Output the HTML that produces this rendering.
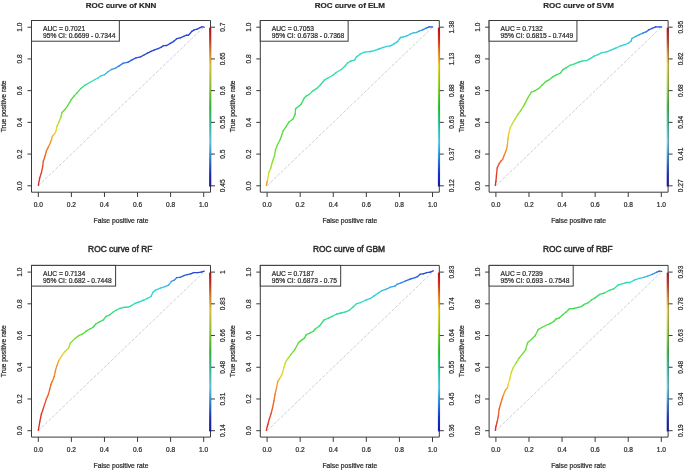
<!DOCTYPE html><html><head><meta charset="utf-8"><style>html,body{margin:0;padding:0;background:#fff;overflow:hidden;width:685px;height:470px;}svg{display:block;filter:blur(0.3px);}text{font-family:"Liberation Sans",sans-serif;stroke:#2a2a2a;stroke-width:0.22px;}</style></head><body>
<svg width="685" height="470" viewBox="0 0 685 470">
<rect width="685" height="470" fill="#fff"/>
<defs><linearGradient id="cbg" x1="0" y1="0" x2="0" y2="1"><stop offset="0" stop-color="rgb(175,20,20)"/><stop offset="0.03" stop-color="rgb(200,28,28)"/><stop offset="0.08" stop-color="rgb(220,55,30)"/><stop offset="0.15" stop-color="rgb(235,140,40)"/><stop offset="0.24" stop-color="rgb(240,220,50)"/><stop offset="0.38" stop-color="rgb(150,215,50)"/><stop offset="0.5" stop-color="rgb(50,200,60)"/><stop offset="0.6" stop-color="rgb(50,205,170)"/><stop offset="0.72" stop-color="rgb(110,215,240)"/><stop offset="0.8" stop-color="rgb(50,160,235)"/><stop offset="0.92" stop-color="rgb(25,45,205)"/><stop offset="1" stop-color="rgb(20,22,165)"/></linearGradient></defs>
<g transform="translate(0,0)">
<text x="121" y="7.6" font-size="8.0" font-weight="bold" stroke-width="0" text-anchor="middle" fill="#2a2a2a">ROC curve of KNN</text>
<line x1="38.3" y1="185.8" x2="203.7" y2="27.2" stroke="#c8d3d7" stroke-width="1" stroke-dasharray="3.2 1.6"/>
<g stroke-width="1.35" stroke-linecap="round"><line x1="38.3" y1="185.3" x2="39.8" y2="177.6" stroke="#de2e28"/><line x1="39.8" y1="177.6" x2="41.4" y2="172.8" stroke="#e03a28"/><line x1="41.4" y1="172.8" x2="42.7" y2="166.1" stroke="#e44628"/><line x1="42.7" y1="166.1" x2="43.3" y2="161.3" stroke="#e64f28"/><line x1="43.3" y1="161.3" x2="44.6" y2="157.5" stroke="#e85828"/><line x1="44.6" y1="157.5" x2="46.5" y2="150.8" stroke="#eb6728"/><line x1="46.5" y1="150.8" x2="47.9" y2="147.9" stroke="#ed7728"/><line x1="47.9" y1="147.9" x2="49.4" y2="145" stroke="#ee8328"/><line x1="49.4" y1="145" x2="51.3" y2="140.3" stroke="#f09328"/><line x1="51.3" y1="140.3" x2="52.3" y2="136.4" stroke="#efa92b"/><line x1="52.3" y1="136.4" x2="54.8" y2="133.5" stroke="#edc02e"/><line x1="54.8" y1="133.5" x2="56.1" y2="130.7" stroke="#ebd732"/><line x1="56.1" y1="130.7" x2="57.1" y2="125.9" stroke="#dcd931"/><line x1="57.1" y1="125.9" x2="59" y2="122" stroke="#c7db2f"/><line x1="59" y1="122" x2="60.9" y2="117.3" stroke="#abde2d"/><line x1="60.9" y1="117.3" x2="61.9" y2="112.5" stroke="#8ade30"/><line x1="61.9" y1="112.5" x2="64.8" y2="109.6" stroke="#70de33"/><line x1="64.8" y1="109.6" x2="67.6" y2="105.8" stroke="#60dd3b"/><line x1="67.6" y1="105.8" x2="71.2" y2="99.6" stroke="#53dd40"/><line x1="71.2" y1="99.6" x2="74.2" y2="95.9" stroke="#49dc45"/><line x1="74.2" y1="95.9" x2="77.1" y2="92.9" stroke="#44dc50"/><line x1="77.1" y1="92.9" x2="80.9" y2="88.4" stroke="#3edd64"/><line x1="80.9" y1="88.4" x2="84.6" y2="85.4" stroke="#38dd7d"/><line x1="84.6" y1="85.4" x2="89.8" y2="82.5" stroke="#32de9a"/><line x1="89.8" y1="82.5" x2="95" y2="79.5" stroke="#32dbb3"/><line x1="95" y1="79.5" x2="98" y2="78" stroke="#32d8cc"/><line x1="98" y1="78" x2="101" y2="75.8" stroke="#33d3d9"/><line x1="101" y1="75.8" x2="104.7" y2="74.6" stroke="#35c9dd"/><line x1="104.7" y1="74.6" x2="107.7" y2="72" stroke="#38bce3"/><line x1="107.7" y1="72" x2="111.4" y2="69.5" stroke="#3bb0e8"/><line x1="111.4" y1="69.5" x2="115.1" y2="68.3" stroke="#3ba2ea"/><line x1="115.1" y1="68.3" x2="118.8" y2="66.1" stroke="#3891e9"/><line x1="118.8" y1="66.1" x2="123.3" y2="63.1" stroke="#347ee7"/><line x1="123.3" y1="63.1" x2="127.8" y2="62.3" stroke="#316de4"/><line x1="127.8" y1="62.3" x2="131.5" y2="60.1" stroke="#2e62e0"/><line x1="131.5" y1="60.1" x2="136" y2="57.9" stroke="#2c57dd"/><line x1="136" y1="57.9" x2="140.5" y2="56.8" stroke="#2a4eda"/><line x1="140.5" y1="56.8" x2="144" y2="55" stroke="#2848d8"/><line x1="144" y1="55" x2="147.5" y2="53.1" stroke="#2846d7"/><line x1="147.5" y1="53.1" x2="151" y2="51.3" stroke="#2846d7"/><line x1="151" y1="51.3" x2="154.5" y2="49.8" stroke="#2846d7"/><line x1="154.5" y1="49.8" x2="158" y2="48.6" stroke="#2846d7"/><line x1="158" y1="48.6" x2="161" y2="47.4" stroke="#2846d7"/><line x1="161" y1="47.4" x2="163.3" y2="45.7" stroke="#2846d7"/><line x1="163.3" y1="45.7" x2="166.8" y2="45.5" stroke="#2846d7"/><line x1="166.8" y1="45.5" x2="170.3" y2="43.4" stroke="#2846d7"/><line x1="170.3" y1="43.4" x2="173.8" y2="41.3" stroke="#2846d7"/><line x1="173.8" y1="41.3" x2="176.7" y2="38.7" stroke="#2846d7"/><line x1="176.7" y1="38.7" x2="180.2" y2="37.8" stroke="#2846d7"/><line x1="180.2" y1="37.8" x2="183.7" y2="36.4" stroke="#2846d7"/><line x1="183.7" y1="36.4" x2="186.6" y2="35.2" stroke="#2846d7"/><line x1="186.6" y1="35.2" x2="188.4" y2="35.2" stroke="#2846d7"/><line x1="188.4" y1="35.2" x2="190.1" y2="33.4" stroke="#2846d7"/><line x1="190.1" y1="33.4" x2="191.9" y2="31.3" stroke="#2846d7"/><line x1="191.9" y1="31.3" x2="194.2" y2="29.9" stroke="#2846d7"/><line x1="194.2" y1="29.9" x2="197.2" y2="29.1" stroke="#2846d7"/><line x1="197.2" y1="29.1" x2="200.1" y2="27.6" stroke="#2846d7"/><line x1="200.1" y1="27.6" x2="201.8" y2="26.8" stroke="#2846d7"/><line x1="201.8" y1="26.8" x2="204.2" y2="27.2" stroke="#2846d7"/></g>
<path d="M31.5 20.5H210.5V192.2H31.5Z" fill="none" stroke="#3a3a3a" stroke-width="1"/>
<rect x="209.1" y="27.7" width="2.1" height="158.8" fill="url(#cbg)"/><line x1="210.9" y1="27.7" x2="210.9" y2="186.5" stroke="#3a3a3a" stroke-opacity="0.4" stroke-width="0.7"/>
<rect x="31.5" y="20.5" width="87.83" height="20.7" fill="#fff" stroke="#3a3a3a" stroke-width="1"/>
<text x="43" y="31.1" font-size="6.7" fill="#2a2a2a">AUC = 0.7021</text>
<text x="43" y="37.7" font-size="6.7" fill="#2a2a2a">95% CI: 0.6699 - 0.7344</text>
<line x1="27.5" y1="185.8" x2="31.5" y2="185.8" stroke="#3a3a3a" stroke-width="1"/>
<text transform="translate(22.4,185.8) rotate(-90)" font-size="6.6" text-anchor="middle" fill="#2a2a2a">0.0</text>
<line x1="27.5" y1="154.08" x2="31.5" y2="154.08" stroke="#3a3a3a" stroke-width="1"/>
<text transform="translate(22.4,154.08) rotate(-90)" font-size="6.6" text-anchor="middle" fill="#2a2a2a">0.2</text>
<line x1="27.5" y1="122.36" x2="31.5" y2="122.36" stroke="#3a3a3a" stroke-width="1"/>
<text transform="translate(22.4,122.36) rotate(-90)" font-size="6.6" text-anchor="middle" fill="#2a2a2a">0.4</text>
<line x1="27.5" y1="90.64" x2="31.5" y2="90.64" stroke="#3a3a3a" stroke-width="1"/>
<text transform="translate(22.4,90.64) rotate(-90)" font-size="6.6" text-anchor="middle" fill="#2a2a2a">0.6</text>
<line x1="27.5" y1="58.92" x2="31.5" y2="58.92" stroke="#3a3a3a" stroke-width="1"/>
<text transform="translate(22.4,58.92) rotate(-90)" font-size="6.6" text-anchor="middle" fill="#2a2a2a">0.8</text>
<line x1="27.5" y1="27.2" x2="31.5" y2="27.2" stroke="#3a3a3a" stroke-width="1"/>
<text transform="translate(22.4,27.2) rotate(-90)" font-size="6.6" text-anchor="middle" fill="#2a2a2a">1.0</text>
<line x1="38.3" y1="192.2" x2="38.3" y2="197" stroke="#3a3a3a" stroke-width="1"/>
<text x="38.3" y="206.8" font-size="6.6" text-anchor="middle" fill="#2a2a2a">0.0</text>
<line x1="71.38" y1="192.2" x2="71.38" y2="197" stroke="#3a3a3a" stroke-width="1"/>
<text x="71.38" y="206.8" font-size="6.6" text-anchor="middle" fill="#2a2a2a">0.2</text>
<line x1="104.46" y1="192.2" x2="104.46" y2="197" stroke="#3a3a3a" stroke-width="1"/>
<text x="104.46" y="206.8" font-size="6.6" text-anchor="middle" fill="#2a2a2a">0.4</text>
<line x1="137.54" y1="192.2" x2="137.54" y2="197" stroke="#3a3a3a" stroke-width="1"/>
<text x="137.54" y="206.8" font-size="6.6" text-anchor="middle" fill="#2a2a2a">0.6</text>
<line x1="170.62" y1="192.2" x2="170.62" y2="197" stroke="#3a3a3a" stroke-width="1"/>
<text x="170.62" y="206.8" font-size="6.6" text-anchor="middle" fill="#2a2a2a">0.8</text>
<line x1="203.7" y1="192.2" x2="203.7" y2="197" stroke="#3a3a3a" stroke-width="1"/>
<text x="203.7" y="206.8" font-size="6.6" text-anchor="middle" fill="#2a2a2a">1.0</text>
<text x="121" y="222.9" font-size="6.75" text-anchor="middle" fill="#2a2a2a">False positive rate</text>
<text transform="translate(6.4,106.35) rotate(-90)" font-size="6.75" text-anchor="middle" fill="#2a2a2a">True positive rate</text>
<line x1="211" y1="27.2" x2="215" y2="27.2" stroke="#3a3a3a" stroke-width="1"/>
<text transform="translate(225.4,27.2) rotate(-90)" font-size="6.6" text-anchor="middle" fill="#2a2a2a">0.7</text>
<line x1="211" y1="58.92" x2="215" y2="58.92" stroke="#3a3a3a" stroke-width="1"/>
<text transform="translate(225.4,58.92) rotate(-90)" font-size="6.6" text-anchor="middle" fill="#2a2a2a">0.65</text>
<line x1="211" y1="90.64" x2="215" y2="90.64" stroke="#3a3a3a" stroke-width="1"/>
<text transform="translate(225.4,90.64) rotate(-90)" font-size="6.6" text-anchor="middle" fill="#2a2a2a">0.6</text>
<line x1="211" y1="122.36" x2="215" y2="122.36" stroke="#3a3a3a" stroke-width="1"/>
<text transform="translate(225.4,122.36) rotate(-90)" font-size="6.6" text-anchor="middle" fill="#2a2a2a">0.55</text>
<line x1="211" y1="154.08" x2="215" y2="154.08" stroke="#3a3a3a" stroke-width="1"/>
<text transform="translate(225.4,154.08) rotate(-90)" font-size="6.6" text-anchor="middle" fill="#2a2a2a">0.5</text>
<line x1="211" y1="185.8" x2="215" y2="185.8" stroke="#3a3a3a" stroke-width="1"/>
<text transform="translate(225.4,185.8) rotate(-90)" font-size="6.6" text-anchor="middle" fill="#2a2a2a">0.45</text>
</g>
<g transform="translate(228.8,0)">
<text x="121" y="7.6" font-size="8.0" font-weight="bold" stroke-width="0" text-anchor="middle" fill="#2a2a2a">ROC curve of ELM</text>
<line x1="38.3" y1="185.8" x2="203.7" y2="27.2" stroke="#c8d3d7" stroke-width="1" stroke-dasharray="3.2 1.6"/>
<g stroke-width="1.35" stroke-linecap="round"><line x1="37.5" y1="185.3" x2="38.7" y2="180.5" stroke="#f09628"/><line x1="38.7" y1="180.5" x2="40" y2="172.8" stroke="#d9d930"/><line x1="40" y1="172.8" x2="41.9" y2="168" stroke="#b2de2d"/><line x1="41.9" y1="168" x2="43.8" y2="161.3" stroke="#95de2f"/><line x1="43.8" y1="161.3" x2="45.7" y2="155.6" stroke="#7ede31"/><line x1="45.7" y1="155.6" x2="46.7" y2="149.8" stroke="#70de33"/><line x1="46.7" y1="149.8" x2="48.6" y2="145" stroke="#69de36"/><line x1="48.6" y1="145" x2="51.5" y2="139.3" stroke="#63dd39"/><line x1="51.5" y1="139.3" x2="54.4" y2="130.7" stroke="#5ddd3c"/><line x1="54.4" y1="130.7" x2="57.2" y2="126.8" stroke="#56dd3f"/><line x1="57.2" y1="126.8" x2="60.1" y2="122" stroke="#50dc42"/><line x1="60.1" y1="122" x2="64" y2="119.2" stroke="#49dc45"/><line x1="64" y1="119.2" x2="66.3" y2="114.4" stroke="#45dc4b"/><line x1="66.3" y1="114.4" x2="66.8" y2="108.6" stroke="#42dc55"/><line x1="66.8" y1="108.6" x2="70.7" y2="105.8" stroke="#40dd5f"/><line x1="70.7" y1="105.8" x2="72.4" y2="104.1" stroke="#3ddd69"/><line x1="72.4" y1="104.1" x2="75.4" y2="98.1" stroke="#3bdd73"/><line x1="75.4" y1="98.1" x2="77.6" y2="95.9" stroke="#38dd7d"/><line x1="77.6" y1="95.9" x2="80.6" y2="94.4" stroke="#37dd82"/><line x1="80.6" y1="94.4" x2="83.5" y2="91.4" stroke="#36de87"/><line x1="83.5" y1="91.4" x2="88" y2="88.4" stroke="#34de8c"/><line x1="88" y1="88.4" x2="91.7" y2="84.7" stroke="#33de91"/><line x1="91.7" y1="84.7" x2="95.5" y2="80.2" stroke="#32de96"/><line x1="95.5" y1="80.2" x2="99.2" y2="78" stroke="#32de9a"/><line x1="99.2" y1="78" x2="104.4" y2="75" stroke="#32dda1"/><line x1="104.4" y1="75" x2="107.4" y2="72.5" stroke="#32dca4"/><line x1="107.4" y1="72.5" x2="112.6" y2="69.5" stroke="#32dca8"/><line x1="112.6" y1="69.5" x2="116.3" y2="66.1" stroke="#32dbaf"/><line x1="116.3" y1="66.1" x2="118.6" y2="63.1" stroke="#32dbb3"/><line x1="118.6" y1="63.1" x2="122.3" y2="60.9" stroke="#32dab6"/><line x1="122.3" y1="60.9" x2="126" y2="59.8" stroke="#32dabe"/><line x1="126" y1="59.8" x2="127.5" y2="57.1" stroke="#32d9c1"/><line x1="127.5" y1="57.1" x2="131.2" y2="54.2" stroke="#32d9c5"/><line x1="131.2" y1="54.2" x2="135.7" y2="52.2" stroke="#32d8cc"/><line x1="135.7" y1="52.2" x2="141.9" y2="51.5" stroke="#32d8d0"/><line x1="141.9" y1="51.5" x2="145.4" y2="50.6" stroke="#32d7d3"/><line x1="145.4" y1="50.6" x2="150.1" y2="49" stroke="#32d7d7"/><line x1="150.1" y1="49" x2="154.7" y2="47.4" stroke="#32d5d8"/><line x1="154.7" y1="47.4" x2="158.2" y2="46.3" stroke="#33d3d9"/><line x1="158.2" y1="46.3" x2="161.7" y2="45.9" stroke="#33d1da"/><line x1="161.7" y1="45.9" x2="165.2" y2="43.9" stroke="#34cfdb"/><line x1="165.2" y1="43.9" x2="168.7" y2="41.6" stroke="#34cddc"/><line x1="168.7" y1="41.6" x2="171.7" y2="37.5" stroke="#35cbdc"/><line x1="171.7" y1="37.5" x2="174.6" y2="36.9" stroke="#35c9dd"/><line x1="174.6" y1="36.9" x2="178.1" y2="35.8" stroke="#36c7de"/><line x1="178.1" y1="35.8" x2="181.6" y2="34" stroke="#36c5df"/><line x1="181.6" y1="34" x2="184.5" y2="32.8" stroke="#37c0e1"/><line x1="184.5" y1="32.8" x2="187.4" y2="32.6" stroke="#38bae4"/><line x1="187.4" y1="32.6" x2="190.3" y2="31.1" stroke="#3bb0e8"/><line x1="190.3" y1="31.1" x2="193.8" y2="29.9" stroke="#3a9fea"/><line x1="193.8" y1="29.9" x2="197.4" y2="28.2" stroke="#3584e8"/><line x1="197.4" y1="28.2" x2="200.3" y2="26.8" stroke="#3068e2"/><line x1="200.3" y1="26.8" x2="203.8" y2="27" stroke="#2b55dc"/></g>
<path d="M31.5 20.5H210.5V192.2H31.5Z" fill="none" stroke="#3a3a3a" stroke-width="1"/>
<rect x="209.1" y="27.7" width="2.1" height="158.8" fill="url(#cbg)"/><line x1="210.9" y1="27.7" x2="210.9" y2="186.5" stroke="#3a3a3a" stroke-opacity="0.4" stroke-width="0.7"/>
<rect x="31.5" y="20.5" width="87.83" height="20.7" fill="#fff" stroke="#3a3a3a" stroke-width="1"/>
<text x="43" y="31.1" font-size="6.7" fill="#2a2a2a">AUC = 0.7053</text>
<text x="43" y="37.7" font-size="6.7" fill="#2a2a2a">95% CI: 0.6738 - 0.7368</text>
<line x1="27.5" y1="185.8" x2="31.5" y2="185.8" stroke="#3a3a3a" stroke-width="1"/>
<text transform="translate(22.4,185.8) rotate(-90)" font-size="6.6" text-anchor="middle" fill="#2a2a2a">0.0</text>
<line x1="27.5" y1="154.08" x2="31.5" y2="154.08" stroke="#3a3a3a" stroke-width="1"/>
<text transform="translate(22.4,154.08) rotate(-90)" font-size="6.6" text-anchor="middle" fill="#2a2a2a">0.2</text>
<line x1="27.5" y1="122.36" x2="31.5" y2="122.36" stroke="#3a3a3a" stroke-width="1"/>
<text transform="translate(22.4,122.36) rotate(-90)" font-size="6.6" text-anchor="middle" fill="#2a2a2a">0.4</text>
<line x1="27.5" y1="90.64" x2="31.5" y2="90.64" stroke="#3a3a3a" stroke-width="1"/>
<text transform="translate(22.4,90.64) rotate(-90)" font-size="6.6" text-anchor="middle" fill="#2a2a2a">0.6</text>
<line x1="27.5" y1="58.92" x2="31.5" y2="58.92" stroke="#3a3a3a" stroke-width="1"/>
<text transform="translate(22.4,58.92) rotate(-90)" font-size="6.6" text-anchor="middle" fill="#2a2a2a">0.8</text>
<line x1="27.5" y1="27.2" x2="31.5" y2="27.2" stroke="#3a3a3a" stroke-width="1"/>
<text transform="translate(22.4,27.2) rotate(-90)" font-size="6.6" text-anchor="middle" fill="#2a2a2a">1.0</text>
<line x1="38.3" y1="192.2" x2="38.3" y2="197" stroke="#3a3a3a" stroke-width="1"/>
<text x="38.3" y="206.8" font-size="6.6" text-anchor="middle" fill="#2a2a2a">0.0</text>
<line x1="71.38" y1="192.2" x2="71.38" y2="197" stroke="#3a3a3a" stroke-width="1"/>
<text x="71.38" y="206.8" font-size="6.6" text-anchor="middle" fill="#2a2a2a">0.2</text>
<line x1="104.46" y1="192.2" x2="104.46" y2="197" stroke="#3a3a3a" stroke-width="1"/>
<text x="104.46" y="206.8" font-size="6.6" text-anchor="middle" fill="#2a2a2a">0.4</text>
<line x1="137.54" y1="192.2" x2="137.54" y2="197" stroke="#3a3a3a" stroke-width="1"/>
<text x="137.54" y="206.8" font-size="6.6" text-anchor="middle" fill="#2a2a2a">0.6</text>
<line x1="170.62" y1="192.2" x2="170.62" y2="197" stroke="#3a3a3a" stroke-width="1"/>
<text x="170.62" y="206.8" font-size="6.6" text-anchor="middle" fill="#2a2a2a">0.8</text>
<line x1="203.7" y1="192.2" x2="203.7" y2="197" stroke="#3a3a3a" stroke-width="1"/>
<text x="203.7" y="206.8" font-size="6.6" text-anchor="middle" fill="#2a2a2a">1.0</text>
<text x="121" y="222.9" font-size="6.75" text-anchor="middle" fill="#2a2a2a">False positive rate</text>
<text transform="translate(6.4,106.35) rotate(-90)" font-size="6.75" text-anchor="middle" fill="#2a2a2a">True positive rate</text>
<line x1="211" y1="27.2" x2="215" y2="27.2" stroke="#3a3a3a" stroke-width="1"/>
<text transform="translate(225.4,27.2) rotate(-90)" font-size="6.6" text-anchor="middle" fill="#2a2a2a">1.38</text>
<line x1="211" y1="58.92" x2="215" y2="58.92" stroke="#3a3a3a" stroke-width="1"/>
<text transform="translate(225.4,58.92) rotate(-90)" font-size="6.6" text-anchor="middle" fill="#2a2a2a">1.13</text>
<line x1="211" y1="90.64" x2="215" y2="90.64" stroke="#3a3a3a" stroke-width="1"/>
<text transform="translate(225.4,90.64) rotate(-90)" font-size="6.6" text-anchor="middle" fill="#2a2a2a">0.88</text>
<line x1="211" y1="122.36" x2="215" y2="122.36" stroke="#3a3a3a" stroke-width="1"/>
<text transform="translate(225.4,122.36) rotate(-90)" font-size="6.6" text-anchor="middle" fill="#2a2a2a">0.63</text>
<line x1="211" y1="154.08" x2="215" y2="154.08" stroke="#3a3a3a" stroke-width="1"/>
<text transform="translate(225.4,154.08) rotate(-90)" font-size="6.6" text-anchor="middle" fill="#2a2a2a">0.37</text>
<line x1="211" y1="185.8" x2="215" y2="185.8" stroke="#3a3a3a" stroke-width="1"/>
<text transform="translate(225.4,185.8) rotate(-90)" font-size="6.6" text-anchor="middle" fill="#2a2a2a">0.12</text>
</g>
<g transform="translate(457.6,0)">
<text x="121" y="7.6" font-size="8.0" font-weight="bold" stroke-width="0" text-anchor="middle" fill="#2a2a2a">ROC curve of SVM</text>
<line x1="38.3" y1="185.8" x2="203.7" y2="27.2" stroke="#c8d3d7" stroke-width="1" stroke-dasharray="3.2 1.6"/>
<g stroke-width="1.35" stroke-linecap="round"><line x1="37.7" y1="185.3" x2="38.3" y2="181.5" stroke="#dd2b28"/><line x1="38.3" y1="181.5" x2="38.9" y2="174.8" stroke="#df3428"/><line x1="38.9" y1="174.8" x2="39.6" y2="168" stroke="#e24028"/><line x1="39.6" y1="168" x2="41.2" y2="164.2" stroke="#e54c28"/><line x1="41.2" y1="164.2" x2="43.1" y2="161.3" stroke="#e85828"/><line x1="43.1" y1="161.3" x2="45" y2="159.4" stroke="#eb6428"/><line x1="45" y1="159.4" x2="46.9" y2="154.6" stroke="#ed7428"/><line x1="46.9" y1="154.6" x2="48.8" y2="149.8" stroke="#ee8628"/><line x1="48.8" y1="149.8" x2="49.8" y2="145" stroke="#f09b29"/><line x1="49.8" y1="145" x2="50.4" y2="138.3" stroke="#eeb22c"/><line x1="50.4" y1="138.3" x2="51.1" y2="133.5" stroke="#ecc42f"/><line x1="51.1" y1="133.5" x2="52.7" y2="127.8" stroke="#ebd732"/><line x1="52.7" y1="127.8" x2="54.6" y2="124" stroke="#d9d930"/><line x1="54.6" y1="124" x2="57.4" y2="119.2" stroke="#c4dc2f"/><line x1="57.4" y1="119.2" x2="60.3" y2="114.4" stroke="#b2de2d"/><line x1="60.3" y1="114.4" x2="63.2" y2="110.5" stroke="#98de2f"/><line x1="63.2" y1="110.5" x2="66.1" y2="105.8" stroke="#82de31"/><line x1="66.1" y1="105.8" x2="67.1" y2="104.1" stroke="#77de32"/><line x1="67.1" y1="104.1" x2="70.1" y2="98.1" stroke="#70de33"/><line x1="70.1" y1="98.1" x2="73.8" y2="92.1" stroke="#69de36"/><line x1="73.8" y1="92.1" x2="77.5" y2="90.7" stroke="#63dd39"/><line x1="77.5" y1="90.7" x2="81.3" y2="88.4" stroke="#5ddd3c"/><line x1="81.3" y1="88.4" x2="84.2" y2="85.4" stroke="#56dd3f"/><line x1="84.2" y1="85.4" x2="88" y2="81.7" stroke="#50dc42"/><line x1="88" y1="81.7" x2="90.9" y2="80.2" stroke="#49dc45"/><line x1="90.9" y1="80.2" x2="94.7" y2="77.2" stroke="#45dc4b"/><line x1="94.7" y1="77.2" x2="99.1" y2="74.6" stroke="#42dc55"/><line x1="99.1" y1="74.6" x2="102.9" y2="73.1" stroke="#40dd5f"/><line x1="102.9" y1="73.1" x2="105.1" y2="69.8" stroke="#3ddd69"/><line x1="105.1" y1="69.8" x2="108.8" y2="67.6" stroke="#3bdd73"/><line x1="108.8" y1="67.6" x2="112.5" y2="65.3" stroke="#38dd7d"/><line x1="112.5" y1="65.3" x2="117" y2="63.8" stroke="#36de87"/><line x1="117" y1="63.8" x2="121.5" y2="62" stroke="#33de91"/><line x1="121.5" y1="62" x2="125.2" y2="60.9" stroke="#32de9a"/><line x1="125.2" y1="60.9" x2="128.9" y2="60.6" stroke="#32dda1"/><line x1="128.9" y1="60.6" x2="132.7" y2="58.6" stroke="#32dca8"/><line x1="132.7" y1="58.6" x2="136.4" y2="56.1" stroke="#32dbaf"/><line x1="136.4" y1="56.1" x2="140.4" y2="54.6" stroke="#32dab6"/><line x1="140.4" y1="54.6" x2="144.4" y2="52.7" stroke="#32dabe"/><line x1="144.4" y1="52.7" x2="149.1" y2="51.8" stroke="#32d9c5"/><line x1="149.1" y1="51.8" x2="153.8" y2="49.8" stroke="#32d8cc"/><line x1="153.8" y1="49.8" x2="158.4" y2="48" stroke="#32d7d3"/><line x1="158.4" y1="48" x2="163.1" y2="45.9" stroke="#32d5d8"/><line x1="163.1" y1="45.9" x2="167.8" y2="44.5" stroke="#33d1da"/><line x1="167.8" y1="44.5" x2="171.3" y2="42.8" stroke="#34cddc"/><line x1="171.3" y1="42.8" x2="173.6" y2="41" stroke="#35c9dd"/><line x1="173.6" y1="41" x2="174.2" y2="38.7" stroke="#37c3e0"/><line x1="174.2" y1="38.7" x2="178.3" y2="36.4" stroke="#39b6e6"/><line x1="178.3" y1="36.4" x2="181.8" y2="34.6" stroke="#3ca7eb"/><line x1="181.8" y1="34.6" x2="185.3" y2="33.2" stroke="#3894e9"/><line x1="185.3" y1="33.2" x2="188.8" y2="31.7" stroke="#347ee7"/><line x1="188.8" y1="31.7" x2="191.1" y2="29.9" stroke="#316de4"/><line x1="191.1" y1="29.9" x2="194.6" y2="28.4" stroke="#2e60e0"/><line x1="194.6" y1="28.4" x2="198.1" y2="26.8" stroke="#2b53db"/><line x1="198.1" y1="26.8" x2="204" y2="27" stroke="#294ad8"/></g>
<path d="M31.5 20.5H210.5V192.2H31.5Z" fill="none" stroke="#3a3a3a" stroke-width="1"/>
<rect x="209.1" y="27.7" width="2.1" height="158.8" fill="url(#cbg)"/><line x1="210.9" y1="27.7" x2="210.9" y2="186.5" stroke="#3a3a3a" stroke-opacity="0.4" stroke-width="0.7"/>
<rect x="31.5" y="20.5" width="87.83" height="20.7" fill="#fff" stroke="#3a3a3a" stroke-width="1"/>
<text x="43" y="31.1" font-size="6.7" fill="#2a2a2a">AUC = 0.7132</text>
<text x="43" y="37.7" font-size="6.7" fill="#2a2a2a">95% CI: 0.6815 - 0.7449</text>
<line x1="27.5" y1="185.8" x2="31.5" y2="185.8" stroke="#3a3a3a" stroke-width="1"/>
<text transform="translate(22.4,185.8) rotate(-90)" font-size="6.6" text-anchor="middle" fill="#2a2a2a">0.0</text>
<line x1="27.5" y1="154.08" x2="31.5" y2="154.08" stroke="#3a3a3a" stroke-width="1"/>
<text transform="translate(22.4,154.08) rotate(-90)" font-size="6.6" text-anchor="middle" fill="#2a2a2a">0.2</text>
<line x1="27.5" y1="122.36" x2="31.5" y2="122.36" stroke="#3a3a3a" stroke-width="1"/>
<text transform="translate(22.4,122.36) rotate(-90)" font-size="6.6" text-anchor="middle" fill="#2a2a2a">0.4</text>
<line x1="27.5" y1="90.64" x2="31.5" y2="90.64" stroke="#3a3a3a" stroke-width="1"/>
<text transform="translate(22.4,90.64) rotate(-90)" font-size="6.6" text-anchor="middle" fill="#2a2a2a">0.6</text>
<line x1="27.5" y1="58.92" x2="31.5" y2="58.92" stroke="#3a3a3a" stroke-width="1"/>
<text transform="translate(22.4,58.92) rotate(-90)" font-size="6.6" text-anchor="middle" fill="#2a2a2a">0.8</text>
<line x1="27.5" y1="27.2" x2="31.5" y2="27.2" stroke="#3a3a3a" stroke-width="1"/>
<text transform="translate(22.4,27.2) rotate(-90)" font-size="6.6" text-anchor="middle" fill="#2a2a2a">1.0</text>
<line x1="38.3" y1="192.2" x2="38.3" y2="197" stroke="#3a3a3a" stroke-width="1"/>
<text x="38.3" y="206.8" font-size="6.6" text-anchor="middle" fill="#2a2a2a">0.0</text>
<line x1="71.38" y1="192.2" x2="71.38" y2="197" stroke="#3a3a3a" stroke-width="1"/>
<text x="71.38" y="206.8" font-size="6.6" text-anchor="middle" fill="#2a2a2a">0.2</text>
<line x1="104.46" y1="192.2" x2="104.46" y2="197" stroke="#3a3a3a" stroke-width="1"/>
<text x="104.46" y="206.8" font-size="6.6" text-anchor="middle" fill="#2a2a2a">0.4</text>
<line x1="137.54" y1="192.2" x2="137.54" y2="197" stroke="#3a3a3a" stroke-width="1"/>
<text x="137.54" y="206.8" font-size="6.6" text-anchor="middle" fill="#2a2a2a">0.6</text>
<line x1="170.62" y1="192.2" x2="170.62" y2="197" stroke="#3a3a3a" stroke-width="1"/>
<text x="170.62" y="206.8" font-size="6.6" text-anchor="middle" fill="#2a2a2a">0.8</text>
<line x1="203.7" y1="192.2" x2="203.7" y2="197" stroke="#3a3a3a" stroke-width="1"/>
<text x="203.7" y="206.8" font-size="6.6" text-anchor="middle" fill="#2a2a2a">1.0</text>
<text x="121" y="222.9" font-size="6.75" text-anchor="middle" fill="#2a2a2a">False positive rate</text>
<text transform="translate(6.4,106.35) rotate(-90)" font-size="6.75" text-anchor="middle" fill="#2a2a2a">True positive rate</text>
<line x1="211" y1="27.2" x2="215" y2="27.2" stroke="#3a3a3a" stroke-width="1"/>
<text transform="translate(225.4,27.2) rotate(-90)" font-size="6.6" text-anchor="middle" fill="#2a2a2a">0.95</text>
<line x1="211" y1="58.92" x2="215" y2="58.92" stroke="#3a3a3a" stroke-width="1"/>
<text transform="translate(225.4,58.92) rotate(-90)" font-size="6.6" text-anchor="middle" fill="#2a2a2a">0.82</text>
<line x1="211" y1="90.64" x2="215" y2="90.64" stroke="#3a3a3a" stroke-width="1"/>
<text transform="translate(225.4,90.64) rotate(-90)" font-size="6.6" text-anchor="middle" fill="#2a2a2a">0.68</text>
<line x1="211" y1="122.36" x2="215" y2="122.36" stroke="#3a3a3a" stroke-width="1"/>
<text transform="translate(225.4,122.36) rotate(-90)" font-size="6.6" text-anchor="middle" fill="#2a2a2a">0.54</text>
<line x1="211" y1="154.08" x2="215" y2="154.08" stroke="#3a3a3a" stroke-width="1"/>
<text transform="translate(225.4,154.08) rotate(-90)" font-size="6.6" text-anchor="middle" fill="#2a2a2a">0.41</text>
<line x1="211" y1="185.8" x2="215" y2="185.8" stroke="#3a3a3a" stroke-width="1"/>
<text transform="translate(225.4,185.8) rotate(-90)" font-size="6.6" text-anchor="middle" fill="#2a2a2a">0.27</text>
</g>
<g transform="translate(0,244.9)">
<text x="120.2" y="6.7" font-size="8.4" style="stroke-width:0.45px" text-anchor="middle" fill="#2a2a2a">ROC curve of RF</text>
<line x1="38.3" y1="185.8" x2="203.7" y2="27.2" stroke="#c8d3d7" stroke-width="1" stroke-dasharray="3.2 1.6"/>
<g stroke-width="1.35" stroke-linecap="round"><line x1="38.3" y1="185.4" x2="39.8" y2="176.8" stroke="#dd2b28"/><line x1="39.8" y1="176.8" x2="41.4" y2="169.1" stroke="#de3128"/><line x1="41.4" y1="169.1" x2="42.7" y2="165.3" stroke="#e03728"/><line x1="42.7" y1="165.3" x2="44.6" y2="159.5" stroke="#e24028"/><line x1="44.6" y1="159.5" x2="46.5" y2="153.8" stroke="#e54c28"/><line x1="46.5" y1="153.8" x2="48.5" y2="149" stroke="#e85828"/><line x1="48.5" y1="149" x2="49.8" y2="144.2" stroke="#ea6128"/><line x1="49.8" y1="144.2" x2="51" y2="139.4" stroke="#ec6a28"/><line x1="51" y1="139.4" x2="52.3" y2="136.5" stroke="#ed7428"/><line x1="52.3" y1="136.5" x2="54.2" y2="131.7" stroke="#ed7a28"/><line x1="54.2" y1="131.7" x2="55.6" y2="125" stroke="#ee8328"/><line x1="55.6" y1="125" x2="57.1" y2="120.2" stroke="#ef9028"/><line x1="57.1" y1="120.2" x2="59" y2="115.4" stroke="#efa42a"/><line x1="59" y1="115.4" x2="61.9" y2="110.6" stroke="#edc02e"/><line x1="61.9" y1="110.6" x2="64.8" y2="106.8" stroke="#dfd831"/><line x1="64.8" y1="106.8" x2="68.6" y2="103" stroke="#c1dc2e"/><line x1="68.6" y1="103" x2="70.4" y2="98.2" stroke="#a8de2e"/><line x1="70.4" y1="98.2" x2="74.9" y2="93.7" stroke="#8ade30"/><line x1="74.9" y1="93.7" x2="78.6" y2="90.8" stroke="#73de32"/><line x1="78.6" y1="90.8" x2="82.3" y2="89.3" stroke="#66dd38"/><line x1="82.3" y1="89.3" x2="86.1" y2="86.3" stroke="#59dd3d"/><line x1="86.1" y1="86.3" x2="89.8" y2="84.1" stroke="#50dc42"/><line x1="89.8" y1="84.1" x2="92.8" y2="82.6" stroke="#49dc45"/><line x1="92.8" y1="82.6" x2="95.8" y2="79.1" stroke="#45dc4b"/><line x1="95.8" y1="79.1" x2="99.5" y2="77" stroke="#42dc55"/><line x1="99.5" y1="77" x2="103.2" y2="75.1" stroke="#40dd5f"/><line x1="103.2" y1="75.1" x2="106.2" y2="71.4" stroke="#3ddd69"/><line x1="106.2" y1="71.4" x2="109.9" y2="69.9" stroke="#3bdd73"/><line x1="109.9" y1="69.9" x2="112.9" y2="67.4" stroke="#38dd7d"/><line x1="112.9" y1="67.4" x2="115.9" y2="65.4" stroke="#36de87"/><line x1="115.9" y1="65.4" x2="119.6" y2="63.6" stroke="#33de91"/><line x1="119.6" y1="63.6" x2="124.1" y2="62.4" stroke="#32de9a"/><line x1="124.1" y1="62.4" x2="127.8" y2="62.4" stroke="#32dda1"/><line x1="127.8" y1="62.4" x2="131.5" y2="60.7" stroke="#32dca8"/><line x1="131.5" y1="60.7" x2="134.7" y2="58.6" stroke="#32dbaf"/><line x1="134.7" y1="58.6" x2="139.3" y2="56.9" stroke="#32dab6"/><line x1="139.3" y1="56.9" x2="144" y2="55.1" stroke="#32dabe"/><line x1="144" y1="55.1" x2="147.5" y2="53.4" stroke="#32d9c5"/><line x1="147.5" y1="53.4" x2="151" y2="51.6" stroke="#32d8cc"/><line x1="151" y1="51.6" x2="152.8" y2="47.5" stroke="#32d7d3"/><line x1="152.8" y1="47.5" x2="155.7" y2="45.2" stroke="#32d5d8"/><line x1="155.7" y1="45.2" x2="160.4" y2="43.2" stroke="#34cfdb"/><line x1="160.4" y1="43.2" x2="165" y2="41.7" stroke="#36c5df"/><line x1="165" y1="41.7" x2="168.5" y2="40.2" stroke="#39b8e5"/><line x1="168.5" y1="40.2" x2="171.5" y2="36.5" stroke="#3caaeb"/><line x1="171.5" y1="36.5" x2="174.4" y2="35.1" stroke="#3894e9"/><line x1="174.4" y1="35.1" x2="176.7" y2="32.7" stroke="#347ee7"/><line x1="176.7" y1="32.7" x2="180.2" y2="32.4" stroke="#316de4"/><line x1="180.2" y1="32.4" x2="183.7" y2="30.8" stroke="#2e62e0"/><line x1="183.7" y1="30.8" x2="187.2" y2="29.7" stroke="#2c59dd"/><line x1="187.2" y1="29.7" x2="190.7" y2="28.9" stroke="#2a51db"/><line x1="190.7" y1="28.9" x2="193.6" y2="27.7" stroke="#294cd9"/><line x1="193.6" y1="27.7" x2="197.7" y2="27.7" stroke="#2848d8"/><line x1="197.7" y1="27.7" x2="201.2" y2="27.3" stroke="#2846d7"/><line x1="201.2" y1="27.3" x2="204.2" y2="26.2" stroke="#2846d7"/></g>
<path d="M31.5 20.5H210.5V192.2H31.5Z" fill="none" stroke="#3a3a3a" stroke-width="1"/>
<rect x="209.1" y="27.7" width="2.1" height="158.8" fill="url(#cbg)"/><line x1="210.9" y1="27.7" x2="210.9" y2="186.5" stroke="#3a3a3a" stroke-opacity="0.4" stroke-width="0.7"/>
<rect x="31.5" y="20.5" width="84.1" height="20.7" fill="#fff" stroke="#3a3a3a" stroke-width="1"/>
<text x="43" y="31.1" font-size="6.7" fill="#2a2a2a">AUC = 0.7134</text>
<text x="43" y="37.7" font-size="6.7" fill="#2a2a2a">95% CI: 0.682 - 0.7448</text>
<line x1="27.5" y1="185.8" x2="31.5" y2="185.8" stroke="#3a3a3a" stroke-width="1"/>
<text transform="translate(22.4,185.8) rotate(-90)" font-size="6.6" text-anchor="middle" fill="#2a2a2a">0.0</text>
<line x1="27.5" y1="154.08" x2="31.5" y2="154.08" stroke="#3a3a3a" stroke-width="1"/>
<text transform="translate(22.4,154.08) rotate(-90)" font-size="6.6" text-anchor="middle" fill="#2a2a2a">0.2</text>
<line x1="27.5" y1="122.36" x2="31.5" y2="122.36" stroke="#3a3a3a" stroke-width="1"/>
<text transform="translate(22.4,122.36) rotate(-90)" font-size="6.6" text-anchor="middle" fill="#2a2a2a">0.4</text>
<line x1="27.5" y1="90.64" x2="31.5" y2="90.64" stroke="#3a3a3a" stroke-width="1"/>
<text transform="translate(22.4,90.64) rotate(-90)" font-size="6.6" text-anchor="middle" fill="#2a2a2a">0.6</text>
<line x1="27.5" y1="58.92" x2="31.5" y2="58.92" stroke="#3a3a3a" stroke-width="1"/>
<text transform="translate(22.4,58.92) rotate(-90)" font-size="6.6" text-anchor="middle" fill="#2a2a2a">0.8</text>
<line x1="27.5" y1="27.2" x2="31.5" y2="27.2" stroke="#3a3a3a" stroke-width="1"/>
<text transform="translate(22.4,27.2) rotate(-90)" font-size="6.6" text-anchor="middle" fill="#2a2a2a">1.0</text>
<line x1="38.3" y1="192.2" x2="38.3" y2="197" stroke="#3a3a3a" stroke-width="1"/>
<text x="38.3" y="206.8" font-size="6.6" text-anchor="middle" fill="#2a2a2a">0.0</text>
<line x1="71.38" y1="192.2" x2="71.38" y2="197" stroke="#3a3a3a" stroke-width="1"/>
<text x="71.38" y="206.8" font-size="6.6" text-anchor="middle" fill="#2a2a2a">0.2</text>
<line x1="104.46" y1="192.2" x2="104.46" y2="197" stroke="#3a3a3a" stroke-width="1"/>
<text x="104.46" y="206.8" font-size="6.6" text-anchor="middle" fill="#2a2a2a">0.4</text>
<line x1="137.54" y1="192.2" x2="137.54" y2="197" stroke="#3a3a3a" stroke-width="1"/>
<text x="137.54" y="206.8" font-size="6.6" text-anchor="middle" fill="#2a2a2a">0.6</text>
<line x1="170.62" y1="192.2" x2="170.62" y2="197" stroke="#3a3a3a" stroke-width="1"/>
<text x="170.62" y="206.8" font-size="6.6" text-anchor="middle" fill="#2a2a2a">0.8</text>
<line x1="203.7" y1="192.2" x2="203.7" y2="197" stroke="#3a3a3a" stroke-width="1"/>
<text x="203.7" y="206.8" font-size="6.6" text-anchor="middle" fill="#2a2a2a">1.0</text>
<text x="121" y="222.9" font-size="6.75" text-anchor="middle" fill="#2a2a2a">False positive rate</text>
<text transform="translate(6.4,106.35) rotate(-90)" font-size="6.75" text-anchor="middle" fill="#2a2a2a">True positive rate</text>
<line x1="211" y1="27.2" x2="215" y2="27.2" stroke="#3a3a3a" stroke-width="1"/>
<text transform="translate(225.4,27.2) rotate(-90)" font-size="6.6" text-anchor="middle" fill="#2a2a2a">1</text>
<line x1="211" y1="58.92" x2="215" y2="58.92" stroke="#3a3a3a" stroke-width="1"/>
<text transform="translate(225.4,58.92) rotate(-90)" font-size="6.6" text-anchor="middle" fill="#2a2a2a">0.83</text>
<line x1="211" y1="90.64" x2="215" y2="90.64" stroke="#3a3a3a" stroke-width="1"/>
<text transform="translate(225.4,90.64) rotate(-90)" font-size="6.6" text-anchor="middle" fill="#2a2a2a">0.66</text>
<line x1="211" y1="122.36" x2="215" y2="122.36" stroke="#3a3a3a" stroke-width="1"/>
<text transform="translate(225.4,122.36) rotate(-90)" font-size="6.6" text-anchor="middle" fill="#2a2a2a">0.48</text>
<line x1="211" y1="154.08" x2="215" y2="154.08" stroke="#3a3a3a" stroke-width="1"/>
<text transform="translate(225.4,154.08) rotate(-90)" font-size="6.6" text-anchor="middle" fill="#2a2a2a">0.31</text>
<line x1="211" y1="185.8" x2="215" y2="185.8" stroke="#3a3a3a" stroke-width="1"/>
<text transform="translate(225.4,185.8) rotate(-90)" font-size="6.6" text-anchor="middle" fill="#2a2a2a">0.14</text>
</g>
<g transform="translate(228.8,244.9)">
<text x="120.2" y="6.7" font-size="8.4" style="stroke-width:0.45px" text-anchor="middle" fill="#2a2a2a">ROC curve of GBM</text>
<line x1="38.3" y1="185.8" x2="203.7" y2="27.2" stroke="#c8d3d7" stroke-width="1" stroke-dasharray="3.2 1.6"/>
<g stroke-width="1.35" stroke-linecap="round"><line x1="37.5" y1="185.4" x2="39" y2="179.6" stroke="#de2e28"/><line x1="39" y1="179.6" x2="40.6" y2="173.9" stroke="#e03a28"/><line x1="40.6" y1="173.9" x2="42.5" y2="168.1" stroke="#e44628"/><line x1="42.5" y1="168.1" x2="43.8" y2="162.4" stroke="#e75228"/><line x1="43.8" y1="162.4" x2="45.2" y2="155.7" stroke="#ea6128"/><line x1="45.2" y1="155.7" x2="46.3" y2="149" stroke="#ed7428"/><line x1="46.3" y1="149" x2="47.7" y2="143.2" stroke="#ee8628"/><line x1="47.7" y1="143.2" x2="49" y2="136.5" stroke="#f09b29"/><line x1="49" y1="136.5" x2="51.5" y2="132.7" stroke="#eeb62d"/><line x1="51.5" y1="132.7" x2="53.4" y2="128.9" stroke="#ecce31"/><line x1="53.4" y1="128.9" x2="55.3" y2="122.1" stroke="#e5d832"/><line x1="55.3" y1="122.1" x2="56.7" y2="117.4" stroke="#d3da30"/><line x1="56.7" y1="117.4" x2="59.2" y2="113.5" stroke="#bbdd2e"/><line x1="59.2" y1="113.5" x2="62" y2="109.7" stroke="#9cde2f"/><line x1="62" y1="109.7" x2="65.9" y2="104.9" stroke="#7bde31"/><line x1="65.9" y1="104.9" x2="69.9" y2="97.5" stroke="#63dd39"/><line x1="69.9" y1="97.5" x2="72.9" y2="95.2" stroke="#56dd3f"/><line x1="72.9" y1="95.2" x2="75.8" y2="93" stroke="#50dc42"/><line x1="75.8" y1="93" x2="77.3" y2="90" stroke="#49dc45"/><line x1="77.3" y1="90" x2="81.1" y2="88.1" stroke="#45dc4b"/><line x1="81.1" y1="88.1" x2="84.8" y2="86.3" stroke="#42dc55"/><line x1="84.8" y1="86.3" x2="86.3" y2="84.1" stroke="#40dd5f"/><line x1="86.3" y1="84.1" x2="90.7" y2="81.1" stroke="#3ddd69"/><line x1="90.7" y1="81.1" x2="95.2" y2="75.1" stroke="#3bdd73"/><line x1="95.2" y1="75.1" x2="99.7" y2="73.2" stroke="#38dd7d"/><line x1="99.7" y1="73.2" x2="103.4" y2="71.4" stroke="#36de87"/><line x1="103.4" y1="71.4" x2="107.9" y2="69.1" stroke="#33de91"/><line x1="107.9" y1="69.1" x2="112.3" y2="68.1" stroke="#32de9a"/><line x1="112.3" y1="68.1" x2="116.8" y2="66.9" stroke="#32dda1"/><line x1="116.8" y1="66.9" x2="120.5" y2="65.4" stroke="#32dca8"/><line x1="120.5" y1="65.4" x2="124.3" y2="62.1" stroke="#32dbaf"/><line x1="124.3" y1="62.1" x2="128" y2="58.7" stroke="#32dab6"/><line x1="128" y1="58.7" x2="131.7" y2="57.7" stroke="#32dabe"/><line x1="131.7" y1="57.7" x2="137.2" y2="55.1" stroke="#32d9c9"/><line x1="137.2" y1="55.1" x2="141.9" y2="53.4" stroke="#32d7d7"/><line x1="141.9" y1="53.4" x2="145.4" y2="51" stroke="#33d1da"/><line x1="145.4" y1="51" x2="149.5" y2="48.1" stroke="#35cbdc"/><line x1="149.5" y1="48.1" x2="153" y2="45.8" stroke="#37c3e0"/><line x1="153" y1="45.8" x2="157.1" y2="44.4" stroke="#38bae4"/><line x1="157.1" y1="44.4" x2="161.7" y2="42.3" stroke="#3ab2e7"/><line x1="161.7" y1="42.3" x2="166.4" y2="41.1" stroke="#3caaeb"/><line x1="166.4" y1="41.1" x2="168.2" y2="39.4" stroke="#3a9fea"/><line x1="168.2" y1="39.4" x2="172.2" y2="37.9" stroke="#3894e9"/><line x1="172.2" y1="37.9" x2="176.9" y2="35.9" stroke="#3686e8"/><line x1="176.9" y1="35.9" x2="181.6" y2="34.1" stroke="#3276e6"/><line x1="181.6" y1="34.1" x2="186.3" y2="32.7" stroke="#306ae3"/><line x1="186.3" y1="32.7" x2="188.6" y2="31.8" stroke="#2e60e0"/><line x1="188.6" y1="31.8" x2="191.5" y2="29.2" stroke="#2c59dd"/><line x1="191.5" y1="29.2" x2="194.4" y2="28.9" stroke="#2a51db"/><line x1="194.4" y1="28.9" x2="197.9" y2="27.7" stroke="#294cd9"/><line x1="197.9" y1="27.7" x2="201.4" y2="27.3" stroke="#2848d8"/><line x1="201.4" y1="27.3" x2="204.4" y2="25.9" stroke="#2846d7"/></g>
<path d="M31.5 20.5H210.5V192.2H31.5Z" fill="none" stroke="#3a3a3a" stroke-width="1"/>
<rect x="209.1" y="27.7" width="2.1" height="158.8" fill="url(#cbg)"/><line x1="210.9" y1="27.7" x2="210.9" y2="186.5" stroke="#3a3a3a" stroke-opacity="0.4" stroke-width="0.7"/>
<rect x="31.5" y="20.5" width="80.38" height="20.7" fill="#fff" stroke="#3a3a3a" stroke-width="1"/>
<text x="43" y="31.1" font-size="6.7" fill="#2a2a2a">AUC = 0.7187</text>
<text x="43" y="37.7" font-size="6.7" fill="#2a2a2a">95% CI: 0.6873 - 0.75</text>
<line x1="27.5" y1="185.8" x2="31.5" y2="185.8" stroke="#3a3a3a" stroke-width="1"/>
<text transform="translate(22.4,185.8) rotate(-90)" font-size="6.6" text-anchor="middle" fill="#2a2a2a">0.0</text>
<line x1="27.5" y1="154.08" x2="31.5" y2="154.08" stroke="#3a3a3a" stroke-width="1"/>
<text transform="translate(22.4,154.08) rotate(-90)" font-size="6.6" text-anchor="middle" fill="#2a2a2a">0.2</text>
<line x1="27.5" y1="122.36" x2="31.5" y2="122.36" stroke="#3a3a3a" stroke-width="1"/>
<text transform="translate(22.4,122.36) rotate(-90)" font-size="6.6" text-anchor="middle" fill="#2a2a2a">0.4</text>
<line x1="27.5" y1="90.64" x2="31.5" y2="90.64" stroke="#3a3a3a" stroke-width="1"/>
<text transform="translate(22.4,90.64) rotate(-90)" font-size="6.6" text-anchor="middle" fill="#2a2a2a">0.6</text>
<line x1="27.5" y1="58.92" x2="31.5" y2="58.92" stroke="#3a3a3a" stroke-width="1"/>
<text transform="translate(22.4,58.92) rotate(-90)" font-size="6.6" text-anchor="middle" fill="#2a2a2a">0.8</text>
<line x1="27.5" y1="27.2" x2="31.5" y2="27.2" stroke="#3a3a3a" stroke-width="1"/>
<text transform="translate(22.4,27.2) rotate(-90)" font-size="6.6" text-anchor="middle" fill="#2a2a2a">1.0</text>
<line x1="38.3" y1="192.2" x2="38.3" y2="197" stroke="#3a3a3a" stroke-width="1"/>
<text x="38.3" y="206.8" font-size="6.6" text-anchor="middle" fill="#2a2a2a">0.0</text>
<line x1="71.38" y1="192.2" x2="71.38" y2="197" stroke="#3a3a3a" stroke-width="1"/>
<text x="71.38" y="206.8" font-size="6.6" text-anchor="middle" fill="#2a2a2a">0.2</text>
<line x1="104.46" y1="192.2" x2="104.46" y2="197" stroke="#3a3a3a" stroke-width="1"/>
<text x="104.46" y="206.8" font-size="6.6" text-anchor="middle" fill="#2a2a2a">0.4</text>
<line x1="137.54" y1="192.2" x2="137.54" y2="197" stroke="#3a3a3a" stroke-width="1"/>
<text x="137.54" y="206.8" font-size="6.6" text-anchor="middle" fill="#2a2a2a">0.6</text>
<line x1="170.62" y1="192.2" x2="170.62" y2="197" stroke="#3a3a3a" stroke-width="1"/>
<text x="170.62" y="206.8" font-size="6.6" text-anchor="middle" fill="#2a2a2a">0.8</text>
<line x1="203.7" y1="192.2" x2="203.7" y2="197" stroke="#3a3a3a" stroke-width="1"/>
<text x="203.7" y="206.8" font-size="6.6" text-anchor="middle" fill="#2a2a2a">1.0</text>
<text x="121" y="222.9" font-size="6.75" text-anchor="middle" fill="#2a2a2a">False positive rate</text>
<text transform="translate(6.4,106.35) rotate(-90)" font-size="6.75" text-anchor="middle" fill="#2a2a2a">True positive rate</text>
<line x1="211" y1="27.2" x2="215" y2="27.2" stroke="#3a3a3a" stroke-width="1"/>
<text transform="translate(225.4,27.2) rotate(-90)" font-size="6.6" text-anchor="middle" fill="#2a2a2a">0.83</text>
<line x1="211" y1="58.92" x2="215" y2="58.92" stroke="#3a3a3a" stroke-width="1"/>
<text transform="translate(225.4,58.92) rotate(-90)" font-size="6.6" text-anchor="middle" fill="#2a2a2a">0.74</text>
<line x1="211" y1="90.64" x2="215" y2="90.64" stroke="#3a3a3a" stroke-width="1"/>
<text transform="translate(225.4,90.64) rotate(-90)" font-size="6.6" text-anchor="middle" fill="#2a2a2a">0.64</text>
<line x1="211" y1="122.36" x2="215" y2="122.36" stroke="#3a3a3a" stroke-width="1"/>
<text transform="translate(225.4,122.36) rotate(-90)" font-size="6.6" text-anchor="middle" fill="#2a2a2a">0.55</text>
<line x1="211" y1="154.08" x2="215" y2="154.08" stroke="#3a3a3a" stroke-width="1"/>
<text transform="translate(225.4,154.08) rotate(-90)" font-size="6.6" text-anchor="middle" fill="#2a2a2a">0.45</text>
<line x1="211" y1="185.8" x2="215" y2="185.8" stroke="#3a3a3a" stroke-width="1"/>
<text transform="translate(225.4,185.8) rotate(-90)" font-size="6.6" text-anchor="middle" fill="#2a2a2a">0.36</text>
</g>
<g transform="translate(457.6,244.9)">
<text x="120.2" y="6.7" font-size="8.4" style="stroke-width:0.45px" text-anchor="middle" fill="#2a2a2a">ROC curve of RBF</text>
<line x1="38.3" y1="185.8" x2="203.7" y2="27.2" stroke="#c8d3d7" stroke-width="1" stroke-dasharray="3.2 1.6"/>
<g stroke-width="1.35" stroke-linecap="round"><line x1="37.7" y1="185.4" x2="38.3" y2="181.6" stroke="#de2e28"/><line x1="38.3" y1="181.6" x2="39.6" y2="176.8" stroke="#e13d28"/><line x1="39.6" y1="176.8" x2="40.8" y2="171" stroke="#e54c28"/><line x1="40.8" y1="171" x2="41.5" y2="164.3" stroke="#e95b28"/><line x1="41.5" y1="164.3" x2="43.1" y2="158.6" stroke="#ec6a28"/><line x1="43.1" y1="158.6" x2="44.6" y2="153.8" stroke="#ed7728"/><line x1="44.6" y1="153.8" x2="45.9" y2="149.9" stroke="#ee8628"/><line x1="45.9" y1="149.9" x2="47.9" y2="145.1" stroke="#f09b29"/><line x1="47.9" y1="145.1" x2="49.8" y2="143.2" stroke="#eeb22c"/><line x1="49.8" y1="143.2" x2="50.7" y2="139.4" stroke="#ecc42f"/><line x1="50.7" y1="139.4" x2="52.3" y2="133.6" stroke="#ebd732"/><line x1="52.3" y1="133.6" x2="53.6" y2="127.9" stroke="#d9d930"/><line x1="53.6" y1="127.9" x2="55.5" y2="123.1" stroke="#c1dc2e"/><line x1="55.5" y1="123.1" x2="58.4" y2="118.3" stroke="#abde2d"/><line x1="58.4" y1="118.3" x2="61.3" y2="113.5" stroke="#95de2f"/><line x1="61.3" y1="113.5" x2="65.1" y2="108.7" stroke="#7ede31"/><line x1="65.1" y1="108.7" x2="68" y2="104.9" stroke="#6dde35"/><line x1="68" y1="104.9" x2="70.1" y2="97.5" stroke="#63dd39"/><line x1="70.1" y1="97.5" x2="73.8" y2="94.5" stroke="#5ddd3c"/><line x1="73.8" y1="94.5" x2="77.5" y2="90.8" stroke="#56dd3f"/><line x1="77.5" y1="90.8" x2="80.5" y2="84.8" stroke="#53dd40"/><line x1="80.5" y1="84.8" x2="84.2" y2="82.6" stroke="#50dc42"/><line x1="84.2" y1="82.6" x2="88" y2="80.6" stroke="#4cdc43"/><line x1="88" y1="80.6" x2="92.4" y2="78.8" stroke="#4cdc43"/><line x1="92.4" y1="78.8" x2="96.2" y2="76.6" stroke="#49dc45"/><line x1="96.2" y1="76.6" x2="98.4" y2="74.1" stroke="#46dc46"/><line x1="98.4" y1="74.1" x2="101.4" y2="73.2" stroke="#46dc46"/><line x1="101.4" y1="73.2" x2="105.1" y2="69.9" stroke="#46dc46"/><line x1="105.1" y1="69.9" x2="108.8" y2="66.9" stroke="#45dc4b"/><line x1="108.8" y1="66.9" x2="111.8" y2="63.9" stroke="#44dc50"/><line x1="111.8" y1="63.9" x2="116.3" y2="63.6" stroke="#44dc50"/><line x1="116.3" y1="63.6" x2="120.7" y2="62.4" stroke="#42dc55"/><line x1="120.7" y1="62.4" x2="123.7" y2="61.7" stroke="#41dc5a"/><line x1="123.7" y1="61.7" x2="126.7" y2="59.5" stroke="#41dc5a"/><line x1="126.7" y1="59.5" x2="130.4" y2="58" stroke="#40dd5f"/><line x1="130.4" y1="58" x2="133.9" y2="55.1" stroke="#3edd64"/><line x1="133.9" y1="55.1" x2="137.4" y2="53" stroke="#3ddd69"/><line x1="137.4" y1="53" x2="142.1" y2="49.5" stroke="#3cdd6e"/><line x1="142.1" y1="49.5" x2="146.8" y2="48.1" stroke="#3bdd73"/><line x1="146.8" y1="48.1" x2="151.4" y2="45.6" stroke="#38dd7d"/><line x1="151.4" y1="45.6" x2="156.1" y2="44" stroke="#36de87"/><line x1="156.1" y1="44" x2="160.8" y2="39.9" stroke="#32de96"/><line x1="160.8" y1="39.9" x2="165.4" y2="38.8" stroke="#32dca4"/><line x1="165.4" y1="38.8" x2="168.9" y2="37.6" stroke="#32dbb3"/><line x1="168.9" y1="37.6" x2="172.4" y2="37.6" stroke="#32d9c1"/><line x1="172.4" y1="37.6" x2="177.1" y2="35" stroke="#32d8d0"/><line x1="177.1" y1="35" x2="181.8" y2="33.5" stroke="#33d3d9"/><line x1="181.8" y1="33.5" x2="186.5" y2="32.4" stroke="#35c9dd"/><line x1="186.5" y1="32.4" x2="190" y2="31.2" stroke="#38bce3"/><line x1="190" y1="31.2" x2="194.6" y2="29.4" stroke="#3baee9"/><line x1="194.6" y1="29.4" x2="199.3" y2="27.3" stroke="#3891e9"/><line x1="199.3" y1="27.3" x2="201.6" y2="26.2" stroke="#316fe5"/><line x1="201.6" y1="26.2" x2="204" y2="26.5" stroke="#2d5bde"/></g>
<path d="M31.5 20.5H210.5V192.2H31.5Z" fill="none" stroke="#3a3a3a" stroke-width="1"/>
<rect x="209.1" y="27.7" width="2.1" height="158.8" fill="url(#cbg)"/><line x1="210.9" y1="27.7" x2="210.9" y2="186.5" stroke="#3a3a3a" stroke-opacity="0.4" stroke-width="0.7"/>
<rect x="31.5" y="20.5" width="84.1" height="20.7" fill="#fff" stroke="#3a3a3a" stroke-width="1"/>
<text x="43" y="31.1" font-size="6.7" fill="#2a2a2a">AUC = 0.7239</text>
<text x="43" y="37.7" font-size="6.7" fill="#2a2a2a">95% CI: 0.693 - 0.7548</text>
<line x1="27.5" y1="185.8" x2="31.5" y2="185.8" stroke="#3a3a3a" stroke-width="1"/>
<text transform="translate(22.4,185.8) rotate(-90)" font-size="6.6" text-anchor="middle" fill="#2a2a2a">0.0</text>
<line x1="27.5" y1="154.08" x2="31.5" y2="154.08" stroke="#3a3a3a" stroke-width="1"/>
<text transform="translate(22.4,154.08) rotate(-90)" font-size="6.6" text-anchor="middle" fill="#2a2a2a">0.2</text>
<line x1="27.5" y1="122.36" x2="31.5" y2="122.36" stroke="#3a3a3a" stroke-width="1"/>
<text transform="translate(22.4,122.36) rotate(-90)" font-size="6.6" text-anchor="middle" fill="#2a2a2a">0.4</text>
<line x1="27.5" y1="90.64" x2="31.5" y2="90.64" stroke="#3a3a3a" stroke-width="1"/>
<text transform="translate(22.4,90.64) rotate(-90)" font-size="6.6" text-anchor="middle" fill="#2a2a2a">0.6</text>
<line x1="27.5" y1="58.92" x2="31.5" y2="58.92" stroke="#3a3a3a" stroke-width="1"/>
<text transform="translate(22.4,58.92) rotate(-90)" font-size="6.6" text-anchor="middle" fill="#2a2a2a">0.8</text>
<line x1="27.5" y1="27.2" x2="31.5" y2="27.2" stroke="#3a3a3a" stroke-width="1"/>
<text transform="translate(22.4,27.2) rotate(-90)" font-size="6.6" text-anchor="middle" fill="#2a2a2a">1.0</text>
<line x1="38.3" y1="192.2" x2="38.3" y2="197" stroke="#3a3a3a" stroke-width="1"/>
<text x="38.3" y="206.8" font-size="6.6" text-anchor="middle" fill="#2a2a2a">0.0</text>
<line x1="71.38" y1="192.2" x2="71.38" y2="197" stroke="#3a3a3a" stroke-width="1"/>
<text x="71.38" y="206.8" font-size="6.6" text-anchor="middle" fill="#2a2a2a">0.2</text>
<line x1="104.46" y1="192.2" x2="104.46" y2="197" stroke="#3a3a3a" stroke-width="1"/>
<text x="104.46" y="206.8" font-size="6.6" text-anchor="middle" fill="#2a2a2a">0.4</text>
<line x1="137.54" y1="192.2" x2="137.54" y2="197" stroke="#3a3a3a" stroke-width="1"/>
<text x="137.54" y="206.8" font-size="6.6" text-anchor="middle" fill="#2a2a2a">0.6</text>
<line x1="170.62" y1="192.2" x2="170.62" y2="197" stroke="#3a3a3a" stroke-width="1"/>
<text x="170.62" y="206.8" font-size="6.6" text-anchor="middle" fill="#2a2a2a">0.8</text>
<line x1="203.7" y1="192.2" x2="203.7" y2="197" stroke="#3a3a3a" stroke-width="1"/>
<text x="203.7" y="206.8" font-size="6.6" text-anchor="middle" fill="#2a2a2a">1.0</text>
<text x="121" y="222.9" font-size="6.75" text-anchor="middle" fill="#2a2a2a">False positive rate</text>
<text transform="translate(6.4,106.35) rotate(-90)" font-size="6.75" text-anchor="middle" fill="#2a2a2a">True positive rate</text>
<line x1="211" y1="27.2" x2="215" y2="27.2" stroke="#3a3a3a" stroke-width="1"/>
<text transform="translate(225.4,27.2) rotate(-90)" font-size="6.6" text-anchor="middle" fill="#2a2a2a">0.93</text>
<line x1="211" y1="58.92" x2="215" y2="58.92" stroke="#3a3a3a" stroke-width="1"/>
<text transform="translate(225.4,58.92) rotate(-90)" font-size="6.6" text-anchor="middle" fill="#2a2a2a">0.78</text>
<line x1="211" y1="90.64" x2="215" y2="90.64" stroke="#3a3a3a" stroke-width="1"/>
<text transform="translate(225.4,90.64) rotate(-90)" font-size="6.6" text-anchor="middle" fill="#2a2a2a">0.63</text>
<line x1="211" y1="122.36" x2="215" y2="122.36" stroke="#3a3a3a" stroke-width="1"/>
<text transform="translate(225.4,122.36) rotate(-90)" font-size="6.6" text-anchor="middle" fill="#2a2a2a">0.48</text>
<line x1="211" y1="154.08" x2="215" y2="154.08" stroke="#3a3a3a" stroke-width="1"/>
<text transform="translate(225.4,154.08) rotate(-90)" font-size="6.6" text-anchor="middle" fill="#2a2a2a">0.34</text>
<line x1="211" y1="185.8" x2="215" y2="185.8" stroke="#3a3a3a" stroke-width="1"/>
<text transform="translate(225.4,185.8) rotate(-90)" font-size="6.6" text-anchor="middle" fill="#2a2a2a">0.19</text>
</g>
</svg></body></html>
